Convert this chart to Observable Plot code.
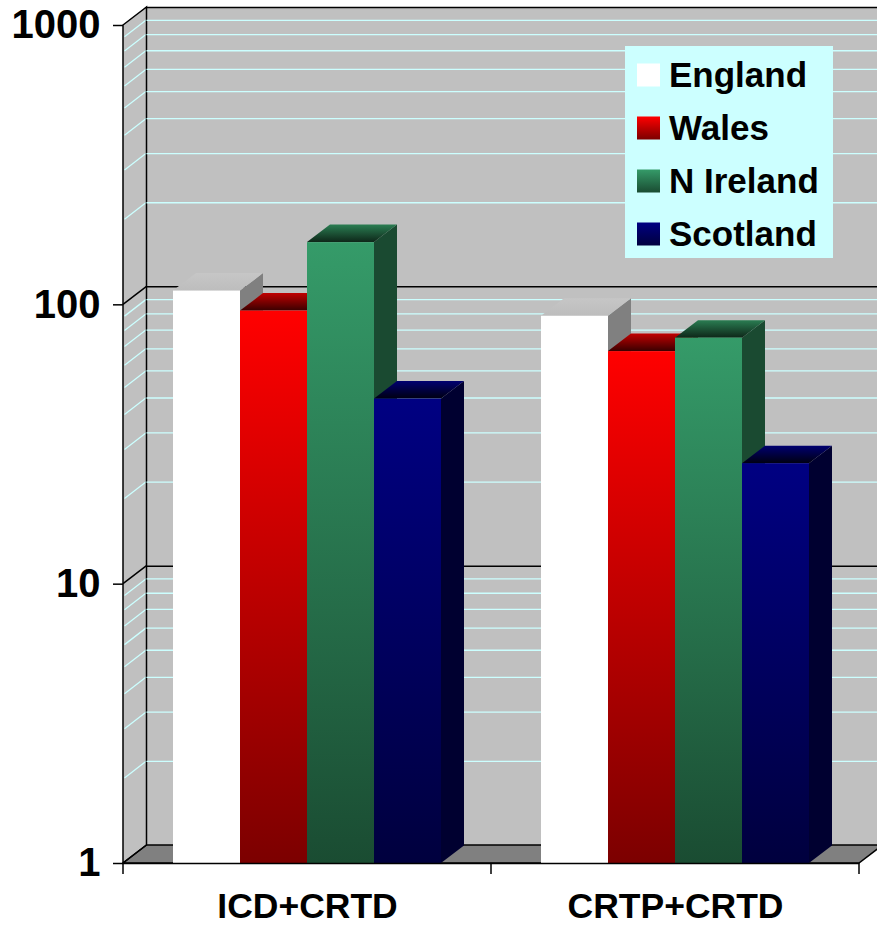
<!DOCTYPE html>
<html><head><meta charset="utf-8">
<script src="https://cdn.jsdelivr.net/npm/d3@7"></script>
<script src="https://cdn.jsdelivr.net/npm/@observablehq/plot@0.6"></script>
<style>
html,body{margin:0;padding:0;background:#fff;}
#chart{position:relative;width:877px;height:925px;}
</style></head><body>
<div id="chart"></div>
<script>
// ---- data ----
const categories = ["ICD+CRTD", "CRTP+CRTD"];
const seriesNames = ["England", "Wales", "N Ireland", "Scotland"];
const england = [112, 91];
const wales = [95, 68];
const nIreland = [167, 76];
const scotland = [46, 27];
const yTicks = [1, 10, 100, 1000];
const majorGrid = [10, 100];
const minorGrid = [2, 3, 4, 5, 6, 7, 8, 9, 20, 30, 40, 50, 60, 70, 80, 90, 200, 300, 400, 500, 600, 700, 800, 900];

const seriesValues = [england, wales, nIreland, scotland];
const data = categories.flatMap((cat, i) =>
  seriesNames.map((series, j) => ({cat, series, j, value: seriesValues[j][i]})));

// ---- styles ----
const W = 877, H = 925;
const ML = 123, MR = 18, MT = 25, MB = 62;
const BW = (W - ML - MR) / categories.length;  // band width
const PADF = 50 / 368, BARF = 67 / 368;          // fractions of band
const DXW = 23.5, DYW = -18;                     // wall depth
const DXB = 23, DYB = -17.5;                     // bar depth
const colors = [
  {front: ["#ffffff", "#ffffff"], top: ["#c6c6c6", "#bdbdbd"], side: "#808080"},
  {front: ["#ff0000", "#7c0000"], top: ["#c00000", "#3a0000"], side: "#600000"},
  {front: ["#359b69", "#1a4c32"], top: ["#2a7d52", "#0e2719"], side: "#1a4a31"},
  {front: ["#000082", "#00003e"], top: ["#000070", "#000012"], side: "#000030"}
];

function vgrad(defs, id, c1, c2) {
  const g = defs.append("linearGradient").attr("id", id)
    .attr("x1", 0).attr("y1", 0).attr("x2", 0).attr("y2", 1);
  g.append("stop").attr("offset", 0).attr("stop-color", c1);
  g.append("stop").attr("offset", 1).attr("stop-color", c2);
}

const defsMark = () => {
  const defs = d3.create("svg:defs");
  colors.forEach((c, j) => {
    vgrad(defs, "front" + j, c.front[0], c.front[1]);
    vgrad(defs, "top" + j, c.top[0], c.top[1]);
  });
  return defs.node();
};

const bwOf = (x) => (x.bandwidth ? x.bandwidth() : BW);

const wallsMark = (index, {x, y}) => {
  const g = d3.create("svg:g");
  const bw = bwOf(x);
  const x0 = x(categories[0]), x1 = x(categories[categories.length - 1]) + bw;
  const yT = y(1000), yB = y(1);
  // back wall
  g.append("rect").attr("x", x0 + DXW).attr("y", yT + DYW)
    .attr("width", x1 - x0 + 5).attr("height", yB - yT).attr("fill", "#c0c0c0");
  // side wall
  g.append("path").attr("d", `M${x0},${yT}L${x0 + DXW},${yT + DYW}L${x0 + DXW},${yB + DYW}L${x0},${yB}Z`)
    .attr("fill", "#c0c0c0");
  // floor
  g.append("path").attr("d", `M${x0},${yB}L${x1},${yB}L${x1 + DXW},${yB + DYW}L${x0 + DXW},${yB + DYW}Z`)
    .attr("fill", "#808080").attr("stroke", "#000").attr("stroke-width", 1.5);
  // slanted gridlines on side wall
  minorGrid.forEach(v => {
    g.append("line").attr("x1", x0 + 1.5).attr("y1", y(v) - 1).attr("x2", x0 + DXW).attr("y2", y(v) + DYW)
      .attr("stroke", "#ccffff").attr("stroke-width", 1.3);
  });
  majorGrid.forEach(v => {
    g.append("line").attr("x1", x0).attr("y1", y(v)).attr("x2", x0 + DXW).attr("y2", y(v) + DYW)
      .attr("stroke", "#000").attr("stroke-width", 1.5);
  });
  g.append("path").attr("d", `M${x0},${yT}L${x0 + DXW},${yT + DYW}L${x0 + DXW},${yB + DYW}L${x0},${yB}Z`)
    .attr("fill", "none").attr("stroke", "#000").attr("stroke-width", 1.5);
  return g.node();
};

function facesMark(j, part) {
  return (index, {x, y}) => {
    const g = d3.create("svg:g");
    const bw = bwOf(x);
    data.filter(d => d.j === j).forEach(d => {
      const xl = x(d.cat) + bw * PADF + bw * BARF * j, xr = xl + bw * BARF;
      const yt = y(d.value), yb = y(1);
      if (part === "side") {
        g.append("path").attr("d", `M${xr},${yt}L${xr + DXB},${yt + DYB}L${xr + DXB},${yb + DYB}L${xr},${yb}Z`)
          .attr("fill", colors[j].side);
      } else {
        g.append("path").attr("d", `M${xl},${yt}L${xr},${yt}L${xr + DXB},${yt + DYB}L${xl + DXB},${yt + DYB}Z`)
          .attr("fill", `url(#top${j})`);
      }
    });
    return g.node();
  };
}

const xTicksMark = (index, {x, y}) => {
  const g = d3.create("svg:g");
  const bw = bwOf(x);
  const edges = categories.map(c => x(c)).concat([x(categories[categories.length - 1]) + bw]);
  const yB = y(1);
  edges.forEach(e => g.append("line").attr("x1", e).attr("x2", e).attr("y1", yB).attr("y2", yB + 11)
    .attr("stroke", "#000").attr("stroke-width", 1.5));
  return g.node();
};

const legendMark = () => {
  const g = d3.create("svg:g");
  g.append("rect").attr("x", 625).attr("y", 46).attr("width", 208).attr("height", 212).attr("fill", "#ccffff");
  seriesNames.forEach((s, j) => {
    const top = 63.5 + 53 * j;
    g.append("rect").attr("x", 637).attr("y", top).attr("width", 23).attr("height", 23)
      .attr("fill", `url(#front${j})`);
    g.append("text").attr("x", 669).attr("y", top + 23).attr("font-size", 35).attr("font-weight", "bold")
      .attr("text-anchor", "start").attr("fill", "#000").text(s);
  });
  return g.node();
};

const barMarks = [];
seriesNames.forEach((s, j) => {
  barMarks.push(facesMark(j, "side"));
  barMarks.push(facesMark(j, "top"));
  barMarks.push(Plot.barY(data.filter(d => d.j === j), {
    x: "cat", y1: 1, y2: "value", fill: `url(#front${j})`,
    insetLeft: BW * PADF + BW * BARF * j,
    insetRight: BW - BW * PADF - BW * BARF * (j + 1)
  }));
});

const chart = Plot.plot({
  width: W, height: H,
  marginLeft: ML, marginRight: MR, marginTop: MT, marginBottom: MB,
  style: {fontFamily: "'Liberation Sans', Arial, sans-serif", fontWeight: "bold", background: "#fff", color: "#000"},
  x: {domain: categories, padding: 0},
  y: {type: "log", domain: [1, 1000]},
  marks: [
    defsMark,
    wallsMark,
    Plot.ruleY(minorGrid, {stroke: "#ccffff", strokeWidth: 1.3, dx: DXW, dy: DYW}),
    Plot.ruleY(majorGrid, {stroke: "#000", strokeWidth: 1.5, dx: DXW, dy: DYW}),
    Plot.ruleY([1000], {stroke: "#000", strokeWidth: 1.5, dx: DXW, dy: DYW}),
    ...barMarks,
    Plot.ruleY([1], {stroke: "#000", strokeWidth: 1.5}),
    xTicksMark,
    Plot.axisY({ticks: yTicks, tickFormat: d => String(d), tickSize: 10, tickPadding: 13,
      fontSize: 40, fontWeight: "bold", strokeWidth: 1.5, label: null}),
    Plot.axisX({tickSize: 0, tickPadding: 29, fontSize: 35.5, fontWeight: "bold", label: null}),
    legendMark
  ]
});
document.getElementById("chart").appendChild(chart);
</script>
</body></html>
